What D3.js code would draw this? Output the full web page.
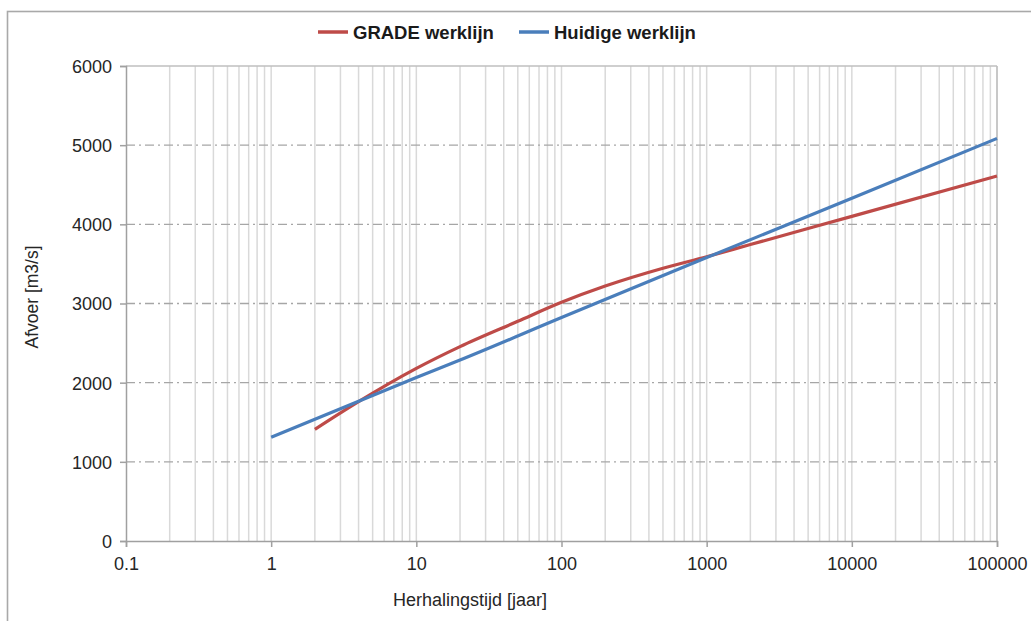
<!DOCTYPE html>
<html>
<head>
<meta charset="utf-8">
<script src="https://cdn.jsdelivr.net/npm/d3@7"></script>
<style>
  html, body { margin: 0; padding: 0; background: #fff; }
  svg { display: block; font-family: "Liberation Sans", Arial, sans-serif; }
</style>
</head>
<body>
<svg id="chart" width="1031" height="621"></svg>
<script>
// Return period [years] and discharge [m3/s] for each design line
const gradeT = [2, 4, 10, 20, 50, 100, 200, 500, 1000, 2000, 10000, 100000];
const gradeQ = [1410, 1760, 2180, 2455, 2775, 3015, 3220, 3445, 3590, 3745, 4100, 4610];
const huidigT = [1, 10, 20, 100, 1000, 10000, 100000];
const huidigQ = [1310, 2065, 2285, 2822, 3580, 4330, 5085];

const seriesNames = ["GRADE werklijn", "Huidige werklijn"];
const seriesColors = ["#be4b48", "#4a7ebb"];

const xTickValues = [0.1, 1, 10, 100, 1000, 10000, 100000];
const xTickLabels = ["0.1", "1", "10", "100", "1000", "10000", "100000"];
const yTickValues = [0, 1000, 2000, 3000, 4000, 5000, 6000];

const xTitle = "Herhalingstijd [jaar]";
const yTitle = "Afvoer [m3/s]";

const svg = d3.select("#chart");
const plot = { left: 126, right: 997, top: 66, bottom: 541 };

const x = d3.scaleLog().domain([0.1, 100000]).range([plot.left, plot.right]);
const y = d3.scaleLinear().domain([0, 6000]).range([plot.bottom, plot.top]);

// outer chart frame
svg.append("rect")
  .attr("x", 7.5).attr("y", 11.5)
  .attr("width", 1040).attr("height", 640)
  .attr("fill", "none").attr("stroke", "#a9a9a9").attr("stroke-width", 1.6);

// minor and major vertical gridlines (1..9 per decade)
const minorT = [];
for (let e = -1; e < 5; e++) {
  for (let m = 1; m <= 9; m++) minorT.push(m * Math.pow(10, e));
}
minorT.push(100000);
svg.append("g").selectAll("line").data(minorT.filter(v => v > 0.1)).join("line")
  .attr("x1", d => x(d)).attr("x2", d => x(d))
  .attr("y1", plot.top).attr("y2", plot.bottom)
  .attr("stroke", "#d9d9d9").attr("stroke-width", 1.5);

// horizontal dash-dot gridlines
svg.append("g").selectAll("line").data(yTickValues.filter(v => v > 0 && v < 6000)).join("line")
  .attr("x1", plot.left).attr("x2", plot.right)
  .attr("y1", d => y(d)).attr("y2", d => y(d))
  .attr("stroke", "#a6a6a6").attr("stroke-width", 1.3)
  .attr("stroke-dasharray", "9,4,2,4");

// plot-area top and right edges
svg.append("line")
  .attr("x1", plot.left).attr("x2", plot.right)
  .attr("y1", y(6000)).attr("y2", y(6000))
  .attr("stroke", "#bfbfbf").attr("stroke-width", 1.5);
svg.append("line")
  .attr("x1", plot.right).attr("x2", plot.right)
  .attr("y1", plot.top).attr("y2", plot.bottom)
  .attr("stroke", "#bfbfbf").attr("stroke-width", 1.5);

// axes
const xAxis = d3.axisBottom(x)
  .tickValues(xTickValues)
  .tickFormat((d, i) => xTickLabels[i])
  .tickSize(6).tickPadding(10);
const gx = svg.append("g").attr("transform", `translate(0,${plot.bottom})`).call(xAxis);

const yAxis = d3.axisLeft(y)
  .tickValues(yTickValues)
  .tickFormat(d3.format("d"))
  .tickSize(6).tickPadding(8);
const gy = svg.append("g").attr("transform", `translate(${plot.left},0)`).call(yAxis);

[gx, gy].forEach(g => {
  g.select(".domain").attr("stroke", "#a0a0a0").attr("stroke-width", 1.5);
  g.selectAll(".tick line").attr("stroke", "#a0a0a0").attr("stroke-width", 1.5);
  g.selectAll(".tick text")
    .attr("fill", "#262626")
    .style("font-size", "18px")
    .style("font-family", "'Liberation Sans', Arial, sans-serif");
});
gy.selectAll(".tick text").attr("dy", "0.36em");

// axis titles
svg.append("text")
  .attr("x", 470).attr("y", 606)
  .attr("text-anchor", "middle")
  .attr("fill", "#262626")
  .style("font-size", "18px")
  .text(xTitle);

svg.append("text")
  .attr("transform", "translate(38,297) rotate(-90)")
  .attr("text-anchor", "middle")
  .attr("fill", "#262626")
  .style("font-size", "17.5px")
  .text(yTitle);

// series lines
const line = d3.line()
  .x(d => x(d[0]))
  .y(d => y(d[1]))
  .curve(d3.curveMonotoneX);

const series = [
  d3.zip(gradeT, gradeQ),
  d3.zip(huidigT, huidigQ)
];

svg.append("g").selectAll("path").data(series).join("path")
  .attr("d", line)
  .attr("fill", "none")
  .attr("stroke", (d, i) => seriesColors[i])
  .attr("stroke-width", 3.2)
  .attr("stroke-linejoin", "round")
  .attr("stroke-linecap", "butt");

// legend
const legendX = [318, 519];
const legend = svg.append("g").selectAll("g").data(seriesNames).join("g")
  .attr("transform", (d, i) => `translate(${legendX[i]},32)`);
legend.append("line")
  .attr("x1", 0).attr("x2", 30)
  .attr("stroke", (d, i) => seriesColors[i])
  .attr("stroke-width", 3.5);
legend.append("text")
  .attr("x", 35).attr("dy", "0.36em")
  .attr("fill", "#1a1a1a")
  .style("font-size", "18.5px")
  .style("font-weight", "bold")
  .text(d => d);
</script>
</body>
</html>
